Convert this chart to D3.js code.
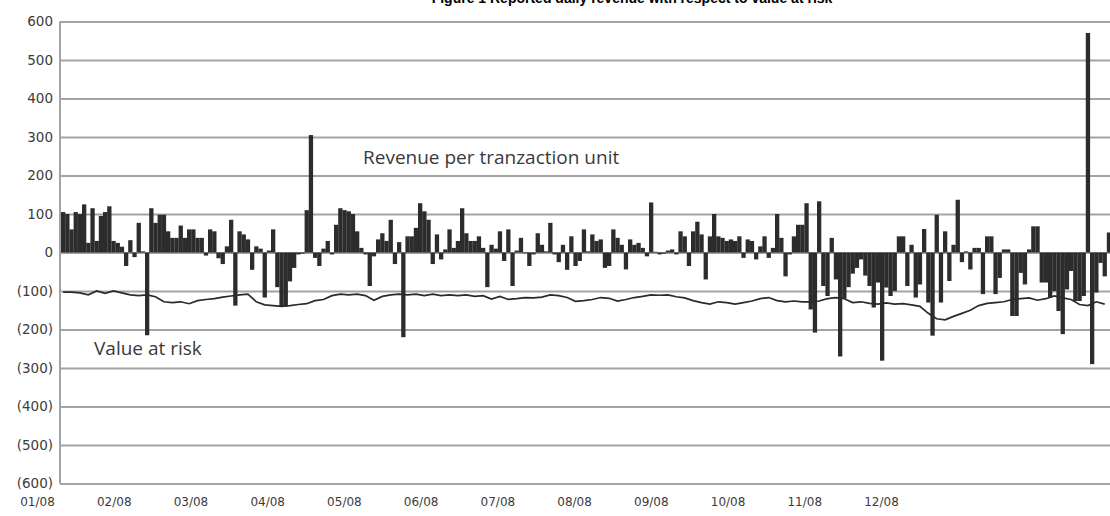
<!DOCTYPE html>
<html lang="en">
<head>
<meta charset="utf-8">
<title>Revenue per tranzaction unit vs value at risk</title>
<script src="https://cdn.jsdelivr.net/npm/d3@7"></script>
<style>
  body { margin: 0; background: #fff; }
  svg { display: block; }
  .grid line { stroke: #a3a3a3; stroke-width: 2; }
  .grid path { stroke: #a3a3a3; stroke-width: 2; }
  .grid text, .months text { font-family: "DejaVu Sans", sans-serif; fill: #3c3c3c; }
  .note { font-family: "Open Sans", sans-serif; font-size: 19px; fill: #3a3a3a; }
</style>
</head>
<body>
<div id="chart"></div>
<script>
var months = ["01/08", "02/08", "03/08", "04/08", "05/08", "06/08",
              "07/08", "08/08", "09/08", "10/08", "11/08", "12/08"];

var yTicks = [600, 500, 400, 300, 200, 100, 0, -100, -200, -300, -400, -500, -600];

// daily revenue per transaction unit (one value per trading day)
var revenue = [
  105, 100, 60, 105, 100, 125, 25, 115, 30, 95,
  105, 120, 30, 25, 15, -35, 32, -12, 77, 3,
  -215, 115, 77, 98, 98, 55, 38, 38, 70, 38,
  60, 60, 38, 38, -8, 60, 55, -15, -30, 16,
  85, -138, 55, 47, 34, -45, 16, 10, -117, 5,
  60, -90, -140, -140, -75, -40, -5, -3, 110, 305,
  -14, -35, 10, 30, -5, 72, 115, 110, 107, 100,
  55, 12, -5, -87, -10, 34, 50, 30, 85, -30,
  27, -220, 42, 42, 64, 128, 107, 85, -30, 47,
  -18, 8, 60, 12, 30, 115, 50, 30, 30, 42,
  12, -90, 20, 10, 55, -22, 60, -87, 5, 38,
  -2, -35, -5, 50, 20, 3, 77, -5, -25, 20,
  -45, 42, -35, -22, 60, 3, 47, 30, 34, -40,
  -35, 60, 38, 20, -44, 34, 20, 25, 12, -10,
  130, 2, -5, -3, 5, 8, -5, 55, 42, -35,
  55, 80, 47, -70, 42, 100, 42, 38, 30, 34,
  30, 42, -14, 34, 30, -18, 16, 42, -14, 12,
  100, 38, -62, -5, 42, 72, 72, 128, -148, -208,
  133, -87, -113, 38, -70, -270, -120, -90, -55, -40,
  -18, -60, -87, -143, -78, -281, -91, -113, -100, 42,
  42, -87, 20, -117, -83, 61, -130, -216, 98, -130,
  55, -74, 20, 137, -25, 3, -44, 12, 12, -108,
  42, 42, -108, -66, 8, 8, -165, -165, -53, -83,
  8, 68, 68, -78, -78, -117, -100, -152, -212, -96,
  -48, -126, -126, -113, 570, -290, -104, -27, -62, 52
];

// value at risk, read every second trading day
var valueAtRisk = [
  -103, -103, -105, -110, -100, -106, -100, -105, -110, -112,
  -110, -115, -128, -130, -128, -133, -125, -122, -120, -116,
  -113, -110, -108, -128, -136, -138, -140, -138, -135, -133,
  -125, -122, -112, -108, -110, -108, -112, -124, -114, -110,
  -108, -110, -108, -112, -108, -112, -110, -112, -110, -114,
  -112, -121, -114, -122, -120, -117, -118, -116, -110, -112,
  -117, -127, -125, -122, -117, -119, -126, -122, -117, -114,
  -110, -111, -110, -115, -118, -125, -130, -134, -128, -130,
  -134, -130, -126, -120, -117, -125, -128, -126, -128, -128,
  -126, -120, -117, -120, -130, -128, -132, -134, -131, -134,
  -133, -136, -140, -158, -172, -175, -166, -158, -150, -138,
  -132, -130, -128, -122, -120, -118, -124, -120, -113, -118,
  -122, -135, -138, -128, -134
];

var width = 1110, height = 516;

var svg = d3.select("#chart").append("svg")
    .attr("width", width)
    .attr("height", height);

var x = d3.scaleBand()
    .domain(d3.range(revenue.length))
    .range([61, 1111])
    .padding(0);

var y = d3.scaleLinear()
    .domain([-600, 600])
    .range([483.5, 21.5]);

var xMonth = d3.scalePoint()
    .domain(months)
    .range([37, 881]);

// title, cut off by the top edge as in the source image
svg.append("text")
    .attr("x", 632)
    .attr("y", 3)
    .attr("text-anchor", "middle")
    .style("font-family", "Liberation Sans, Arial, sans-serif")
    .style("font-weight", "bold")
    .style("font-size", "14px")
    .text("Figure 1  Reported daily revenue with respect to value at risk");

// grid + y axis
var yAxis = d3.axisLeft(y)
    .tickValues(yTicks)
    .tickSize(-(width - 60))
    .tickPadding(7)
    .tickFormat(function(d) { return d < 0 ? "(" + (-d) + ")" : d; });

svg.append("g")
    .attr("class", "grid")
    .attr("transform", "translate(60,0)")
    .call(yAxis)
    .call(function(g) { g.select(".domain").attr("d", "M0," + y(600) + "V" + y(-600)); })
    .selectAll("text")
    .style("font-size", "13.5px");

// revenue bars
svg.append("g").selectAll("rect")
    .data(revenue)
    .enter().append("rect")
    .attr("x", function(d, i) { return x(i); })
    .attr("y", function(d) { return d >= 0 ? y(d) : y(0); })
    .attr("width", x.bandwidth() + 0.1)
    .attr("height", function(d) { return Math.abs(y(d) - y(0)); })
    .attr("fill", "#2c2c2c");

// value at risk line
var line = d3.line()
    .x(function(d, k) { return x(k * 2) + x.bandwidth() / 2; })
    .y(function(d) { return y(d); });

svg.append("path")
    .datum(valueAtRisk)
    .attr("d", line)
    .attr("fill", "none")
    .attr("stroke", "#2a2a2a")
    .attr("stroke-width", 1.7);

// month labels
svg.append("g")
    .attr("class", "months")
    .attr("transform", "translate(0,484)")
    .call(d3.axisBottom(xMonth).tickSize(0).tickPadding(13))
    .call(function(g) { g.select(".domain").remove(); })
    .selectAll("text")
    .style("font-size", "12px");

svg.append("text")
    .attr("class", "note")
    .attr("x", 363)
    .attr("y", 164)
    .text("Revenue per tranzaction unit");

svg.append("text")
    .attr("class", "note")
    .attr("x", 94)
    .attr("y", 355)
    .text("Value at risk");
</script>
</body>
</html>
